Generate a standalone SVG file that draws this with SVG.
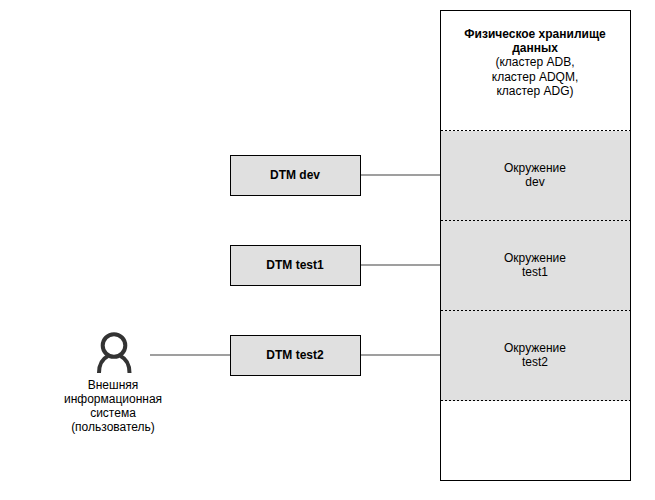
<svg xmlns="http://www.w3.org/2000/svg" width="655" height="500" viewBox="0 0 655 500">
<style>
text{font-family:"Liberation Sans",Arial,sans-serif;font-size:12px;fill:#000;text-anchor:middle}
.b{font-weight:bold}
.box{fill:#e0e0e0;stroke:#000;stroke-width:1}
.env{fill:#e0e0e0;stroke:none}
.div{stroke:#000;stroke-width:1;stroke-dasharray:2 2;fill:none}
.conn{stroke:#808080;stroke-width:1.5;fill:none}
</style>
<rect width="655" height="500" fill="#fff"/>
<g id="storage">
<rect x="440.500" y="10.500" width="190" height="470" fill="#fff"/>
<rect class="env" x="441" y="131" width="189" height="270"/>
<rect x="440.500" y="10.500" width="190" height="470" fill="none" stroke="#000"/>
<path class="div" d="M441 130.500H630M441 220.500H630M441 310.500H630M441 400.500H630"/>
<text class="b" x="535" y="38">Физическое хранилище</text>
<text class="b" x="535" y="52">данных</text>
<text x="535" y="66">(кластер ADB,</text>
<text x="535" y="81">кластер ADQM,</text>
<text x="535" y="95">кластер ADG)</text>
</g>
<g id="env-dev"><text x="535" y="172">Окружение</text><text x="535" y="186">dev</text></g>
<g id="env-test1"><text x="535" y="262">Окружение</text><text x="535" y="276">test1</text></g>
<g id="env-test2"><text x="535" y="352">Окружение</text><text x="535" y="366">test2</text></g>
<g id="connectors">
<path class="conn" d="M360 175H440M360 265H440M360 355H440M150 355H230"/>
</g>
<g id="dtm-dev"><rect class="box" x="230.500" y="155.500" width="130" height="40"/><text class="b" x="295" y="179">DTM dev</text></g>
<g id="dtm-test1"><rect class="box" x="230.500" y="245.500" width="130" height="40"/><text class="b" x="295" y="269">DTM test1</text></g>
<g id="dtm-test2"><rect class="box" x="230.500" y="335.500" width="130" height="40"/><text class="b" x="295" y="359">DTM test2</text></g>
<g id="user">
<circle cx="114" cy="345.500" r="11.300" fill="none" stroke="#333" stroke-width="4"/>
<path d="M99 373C99 365 102 359 108 356M129.500 373C129.500 365 126.500 359 120.500 356" fill="none" stroke="#333" stroke-width="4"/>
<text x="113" y="389">Внешняя</text>
<text x="113" y="403">информационная</text>
<text x="113" y="417">система</text>
<text x="113" y="431">(пользователь)</text>
</g>
</svg>
